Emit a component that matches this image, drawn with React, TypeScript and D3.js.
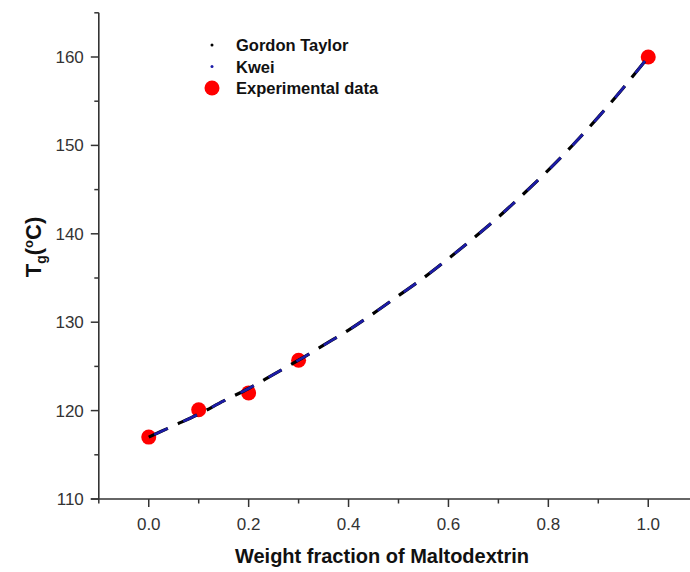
import React from "react";
import * as d3 from "d3";

const W = 690;
const H = 572;

// curve (weight fraction, Tg)
const curveW = [0, 0.05, 0.1, 0.15, 0.2, 0.25, 0.3, 0.35, 0.4, 0.45, 0.5, 0.55, 0.6, 0.65, 0.7, 0.75, 0.8, 0.85, 0.9, 0.95, 1.0];
const gordonTaylor = [117, 118.3, 119.6, 121.1, 122.5, 124.1, 125.7, 127.4, 129.1, 131.0, 133.0, 135.0, 137.2, 139.5, 141.9, 144.5, 147.2, 150.1, 153.2, 156.5, 160];
const kwei = [117, 118.3, 119.6, 121.1, 122.5, 124.1, 125.7, 127.4, 129.1, 131.0, 133.0, 135.0, 137.2, 139.5, 141.9, 144.5, 147.2, 150.1, 153.2, 156.5, 160];

const expW = [0, 0.1, 0.2, 0.3, 1.0];
const expTg = [117, 120.1, 122, 125.7, 160];

const xTicks = [0, 0.2, 0.4, 0.6, 0.8, 1.0];
const xMinor = [-0.1, 0.1, 0.3, 0.5, 0.7, 0.9];
const yTicks = [110, 120, 130, 140, 150, 160];
const yMinor = [115, 125, 135, 145, 155, 165];

const legendItems = ["Gordon Taylor", "Kwei", "Experimental data"];

export default function App() {
  const x = d3.scaleLinear().domain([-0.1, 1.1]).range([98.8, 698.2]);
  const y = d3.scaleLinear().domain([110, 165]).range([499, 12.8]);
  const axisColor = "#333";
  const font = "'Liberation Sans', Arial, sans-serif";

  const line = d3
    .line<number>()
    .x((_, i) => x(curveW[i]))
    .y((d) => y(d))
    .curve(d3.curveMonotoneX);

  return (
    <svg
      width={W}
      height={H}
      style={{ position: "absolute", left: 0, top: 0, background: "#fff" }}
      fontFamily={font}
    >
      <rect width={W} height={H} fill="#fff" />
      {/* experimental points */}
      {expW.map((w, i) => (
        <circle key={i} cx={x(w)} cy={y(expTg[i])} r={7.5} fill="#ff0000" />
      ))}
      {/* curves */}
      <path d={line(gordonTaylor) || ""} fill="none" stroke="#000" strokeWidth={3.2} strokeDasharray="21 11" />
      <path d={line(kwei) || ""} fill="none" stroke="#1c1ca8" strokeWidth={2.6} strokeDasharray="15 17" strokeDashoffset={-6} />

      {/* y axis */}
      <line x1={x(-0.1)} x2={x(-0.1)} y1={y(165)} y2={y(110)} stroke={axisColor} strokeWidth={1.6} />
      {yTicks.map((t) => (
        <g key={t}>
          <line x1={x(-0.1) - 8} x2={x(-0.1)} y1={y(t)} y2={y(t)} stroke={axisColor} strokeWidth={1.5} />
          <text x={x(-0.1) - 15} y={y(t) + 6} textAnchor="end" fontSize={17} fill="#333">
            {t}
          </text>
        </g>
      ))}
      {yMinor.map((t) => (
        <line key={t} x1={x(-0.1) - 4.5} x2={x(-0.1)} y1={y(t)} y2={y(t)} stroke={axisColor} strokeWidth={1.5} />
      ))}

      {/* x axis */}
      <line x1={x(-0.1) - 8} x2={W} y1={y(110)} y2={y(110)} stroke={axisColor} strokeWidth={1.6} />
      {xTicks.map((t) => (
        <g key={t}>
          <line x1={x(t)} x2={x(t)} y1={y(110)} y2={y(110) + 8} stroke={axisColor} strokeWidth={1.5} />
          <text x={x(t)} y={y(110) + 31} textAnchor="middle" fontSize={17} fill="#333">
            {t.toFixed(1)}
          </text>
        </g>
      ))}
      {xMinor.map((t) => (
        <line key={t} x1={x(t)} x2={x(t)} y1={y(110)} y2={y(110) + 4.5} stroke={axisColor} strokeWidth={1.5} />
      ))}

      {/* axis titles */}
      <text x={382} y={563} textAnchor="middle" fontSize={20} fontWeight="bold" fill="#111">
        Weight fraction of Maltodextrin
      </text>
      <g transform="translate(41,247) rotate(-90)">
        <text textAnchor="middle" fontSize={22} fontWeight="bold" fill="#111">
          T<tspan fontSize={14} dy={5}>g</tspan>
          <tspan dy={-5}>(</tspan>
          <tspan fontSize={13} dy={-8}>o</tspan>
          <tspan dy={8}>C)</tspan>
        </text>
      </g>

      {/* legend */}
      <g fontSize={16.5} fontWeight="bold" fill="#111">
        <circle cx={212} cy={45} r={1.5} fill="#000" />
        <text x={236} y={51}>{legendItems[0]}</text>
        <circle cx={212} cy={66.5} r={1.5} fill="#1c1ca8" />
        <text x={236} y={72.5}>{legendItems[1]}</text>
        <circle cx={212} cy={88} r={7.5} fill="#ff0000" />
        <text x={236} y={94}>{legendItems[2]}</text>
      </g>
    </svg>
  );
}
